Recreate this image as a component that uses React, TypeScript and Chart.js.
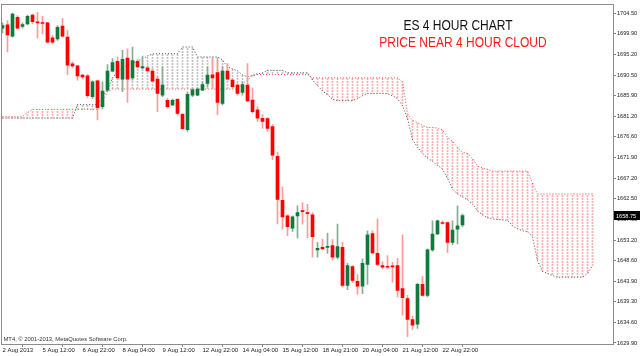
import React, { useEffect, useRef } from 'react';
import { Chart, registerables } from 'chart.js';

Chart.register(...registerables);

// ---- candle data (ES 4H) ----
const opens = [1701.13, 1701.87, 1699.33, 1703.60, 1701.51, 1702.09, 1704.12, 1702.48, 1702.32, 1702.32,
  1698.95, 1698.72, 1701.58, 1699.11, 1693.04, 1692.59, 1690.50, 1690.34, 1685.62, 1689.22,
  1683.38, 1687.13, 1691.40, 1693.65, 1689.60, 1694.39, 1689.89, 1693.65, 1692.14, 1692.14,
  1691.40, 1689.60, 1686.00, 1684.79, 1683.76, 1685.02, 1681.65, 1678.14, 1686.00, 1686.00,
  1687.13, 1688.61, 1690.57, 1691.08, 1684.12, 1691.40, 1689.38, 1688.25, 1686.59, 1688.25,
  1684.88, 1682.63, 1680.75, 1680.68, 1678.88, 1672.14, 1662.19, 1658.66, 1655.90, 1658.66,
  1659.78, 1659.40, 1658.88, 1650.95, 1651.54, 1651.54, 1651.92, 1649.29, 1651.54, 1642.93,
  1647.20, 1643.83, 1642.77, 1647.65, 1654.68, 1650.19, 1647.42, 1647.13, 1647.20, 1647.42,
  1642.19, 1639.94, 1635.22, 1634.17, 1643.15, 1640.68, 1650.95, 1654.55, 1657.16, 1657.16,
  1652.66, 1655.67, 1656.64];
const highs = [1702.32, 1702.86, 1704.57, 1703.98, 1702.32, 1704.12, 1704.34, 1704.72, 1703.82, 1702.48,
  1699.49, 1701.73, 1703.37, 1700.61, 1693.49, 1692.75, 1690.63, 1690.63, 1689.22, 1689.38,
  1688.99, 1692.88, 1694.23, 1694.61, 1696.12, 1696.48, 1696.86, 1694.10, 1694.84, 1692.59,
  1691.98, 1690.12, 1692.36, 1685.24, 1685.11, 1685.24, 1681.87, 1686.75, 1687.49, 1687.65,
  1688.99, 1692.36, 1694.23, 1694.23, 1692.36, 1693.11, 1689.74, 1688.61, 1688.99, 1693.11,
  1687.65, 1683.38, 1681.58, 1680.91, 1679.33, 1673.11, 1665.18, 1658.88, 1658.66, 1660.91,
  1661.65, 1661.29, 1659.40, 1652.66, 1653.42, 1654.77, 1653.27, 1656.79, 1652.66, 1647.94,
  1647.42, 1645.40, 1648.93, 1655.29, 1655.29, 1657.92, 1648.32, 1649.67, 1648.17, 1649.06,
  1654.39, 1640.68, 1635.97, 1643.45, 1644.95, 1651.18, 1657.54, 1657.69, 1657.54, 1657.31,
  1657.54, 1660.91, 1659.04];
const lows = [1700.07, 1695.74, 1699.11, 1700.97, 1701.13, 1701.87, 1702.09, 1698.88, 1699.85, 1697.82,
  1697.60, 1698.36, 1699.11, 1690.63, 1692.14, 1689.38, 1689.67, 1685.40, 1685.24, 1680.39,
  1682.86, 1686.90, 1691.24, 1689.74, 1686.75, 1684.34, 1689.38, 1692.14, 1691.98, 1691.40,
  1688.99, 1682.25, 1685.62, 1683.00, 1683.60, 1681.51, 1678.14, 1677.76, 1685.62, 1685.85,
  1686.97, 1687.87, 1687.49, 1681.58, 1683.76, 1689.38, 1687.65, 1686.00, 1686.00, 1684.50,
  1681.87, 1680.01, 1678.44, 1677.76, 1671.40, 1656.86, 1655.67, 1654.17, 1655.13, 1653.65,
  1656.79, 1653.65, 1649.29, 1649.29, 1650.95, 1650.19, 1648.70, 1648.93, 1642.55, 1641.96,
  1643.60, 1640.91, 1641.06, 1643.15, 1650.05, 1647.42, 1646.68, 1646.68, 1643.67, 1640.30,
  1636.19, 1631.31, 1632.98, 1633.20, 1640.46, 1640.30, 1650.64, 1654.39, 1656.79, 1650.41,
  1652.14, 1652.30, 1656.19];
const closes = [1701.73, 1699.62, 1704.34, 1701.13, 1701.96, 1703.82, 1702.63, 1702.32, 1702.18, 1697.98,
  1697.98, 1701.35, 1699.33, 1692.75, 1692.59, 1690.34, 1690.12, 1685.85, 1688.99, 1683.15,
  1686.90, 1691.40, 1693.33, 1689.89, 1694.10, 1689.60, 1693.78, 1692.36, 1692.43, 1691.47,
  1689.15, 1686.37, 1688.25, 1683.38, 1684.79, 1681.87, 1678.37, 1686.14, 1687.20, 1687.35,
  1688.39, 1690.50, 1689.89, 1684.34, 1691.40, 1689.60, 1687.87, 1686.37, 1688.39, 1684.66,
  1682.25, 1680.75, 1680.01, 1678.44, 1672.37, 1662.41, 1658.43, 1656.19, 1658.43, 1659.40,
  1659.62, 1659.18, 1653.94, 1651.31, 1651.18, 1651.76, 1649.29, 1651.69, 1642.93, 1647.42,
  1644.05, 1642.77, 1647.94, 1654.39, 1650.28, 1647.65, 1647.04, 1647.04, 1647.13, 1641.81,
  1640.17, 1635.22, 1633.95, 1643.15, 1640.68, 1650.95, 1654.55, 1657.54, 1656.93, 1652.66,
  1655.45, 1656.41, 1658.75];

// ---- Ichimoku cloud (shifted 26 bars ahead) ----
const spanA = [1680.79, 1680.79, 1680.79, 1680.79, 1680.79, 1680.79, 1680.79, 1680.79, 1680.79, 1680.79,
  1680.79, 1680.79, 1680.79, 1680.79, 1680.79, 1683.83, 1683.83, 1683.83, 1683.83, 1683.83,
  1685.62, 1687.20, 1689.89, 1691.24, 1692.14, 1692.81, 1693.26, 1693.71, 1694.16, 1694.84,
  1695.29, 1695.35, 1695.35, 1695.35, 1695.35, 1695.35, 1696.86, 1696.86, 1696.86, 1694.61,
  1694.61, 1694.61, 1694.61, 1694.61, 1693.94, 1692.36, 1691.92, 1691.47, 1690.57, 1690.12,
  1690.45, 1690.79, 1691.02, 1691.58, 1691.58, 1691.58, 1691.58, 1691.02, 1691.02, 1691.02,
  1691.02, 1691.02, 1689.44, 1688.10, 1686.97, 1686.07, 1685.06, 1684.72, 1684.72, 1684.72,
  1684.72, 1685.17, 1685.85, 1686.37, 1686.37, 1686.37, 1686.37, 1686.30, 1685.85, 1685.17,
  1683.60, 1680.68, 1675.96, 1674.16, 1672.81, 1671.69, 1671.02, 1670.12, 1669.22, 1667.20,
  1664.73, 1663.60, 1662.93, 1662.26, 1661.36, 1659.78, 1658.88, 1658.21, 1657.99, 1657.87,
  1657.76, 1657.65, 1656.41, 1655.74, 1655.29, 1655.06, 1653.94, 1648.55, 1646.08, 1645.63,
  1645.18, 1644.80, 1644.80, 1644.80, 1644.80, 1644.80, 1644.80, 1645.63, 1647.42];
const spanB = [1681.13, 1681.13, 1681.13, 1681.13, 1681.13, 1682.03, 1682.77, 1682.77, 1682.77, 1682.77,
  1682.77, 1682.77, 1682.77, 1682.77, 1682.77, 1682.77, 1682.77, 1682.77, 1682.77, 1682.77,
  1684.50, 1686.75, 1687.35, 1687.35, 1687.35, 1687.35, 1687.35, 1687.35, 1687.35, 1687.35,
  1687.35, 1687.35, 1687.35, 1687.35, 1687.35, 1687.35, 1687.35, 1687.35, 1687.35, 1687.35,
  1687.35, 1687.35, 1687.35, 1687.35, 1687.35, 1687.35, 1687.35, 1687.35, 1688.54, 1689.44,
  1690.34, 1690.63, 1690.63, 1690.63, 1690.63, 1690.63, 1690.63, 1690.63, 1690.63, 1690.63,
  1690.63, 1690.63, 1689.89, 1689.89, 1689.89, 1689.89, 1689.89, 1689.89, 1689.89, 1689.89,
  1689.89, 1689.89, 1689.89, 1689.89, 1689.89, 1689.89, 1689.89, 1689.89, 1689.89, 1689.89,
  1688.99, 1681.80, 1680.23, 1679.78, 1679.11, 1678.66, 1678.66, 1678.55, 1678.10, 1676.41,
  1675.51, 1674.16, 1673.04, 1672.81, 1671.69, 1669.89, 1669.51, 1669.22, 1668.77, 1668.77,
  1668.77, 1668.77, 1668.77, 1668.77, 1668.77, 1668.77, 1666.07, 1663.60, 1663.60, 1663.60,
  1663.60, 1663.60, 1663.60, 1663.60, 1663.60, 1663.60, 1663.60, 1663.60, 1663.60];

// ---- axes ----
const yTicks = [1704.5, 1699.9, 1695.2, 1690.5, 1685.9, 1681.2, 1676.6, 1671.9, 1667.2, 1662.5,
  1657.9, 1653.2, 1648.6, 1643.9, 1639.3, 1634.6, 1629.9];
const xTickBars = [0, 8, 16, 24, 32, 40, 48, 56, 64, 72, 80, 88];
const xTickLabels = ['2 Aug 2013', '5 Aug 12:00', '6 Aug 22:00', '8 Aug 04:00', '9 Aug 12:00',
  '12 Aug 22:00', '14 Aug 04:00', '15 Aug 12:00', '18 Aug 21:00', '20 Aug 04:00', '21 Aug 12:00',
  '22 Aug 22:00'];
const titleLine1 = 'ES 4 HOUR CHART';
const titleLine2 = 'PRICE NEAR 4 HOUR CLOUD';
const copyright = 'MT4, \u00A9 2001-2013, MetaQuotes Software Corp.';

const FONT = '"Liberation Sans", Arial, sans-serif';

function makePattern(color: string) {
  const c = document.createElement('canvas');
  c.width = 1;
  c.height = 3;
  const g = c.getContext('2d')!;
  g.fillStyle = color;
  g.fillRect(0, 0, 1, 2);
  return g.createPattern(c, 'repeat')!;
}

function drawText(ctx: CanvasRenderingContext2D, text: string, x: number, y: number, size: number,
  color: string, sx: number, align: CanvasTextAlign) {
  ctx.save();
  ctx.font = `${size}px ${FONT}`;
  ctx.fillStyle = color;
  ctx.textAlign = align;
  ctx.textBaseline = 'alphabetic';
  ctx.translate(x, y);
  ctx.scale(sx, 1);
  ctx.fillText(text, 0, 0);
  ctx.restore();
}

export default function App() {
  const ref = useRef<HTMLCanvasElement>(null);
  useEffect(() => {
    document.body.style.margin = '0';
    const canvas = ref.current!;
    const redHatch = makePattern('rgba(255,110,110,0.55)');
    const grayHatch = makePattern('rgba(120,120,120,0.45)');
    const idx = opens.map((_, i) => i);
    const cIdx = spanA.map((_, i) => i);
    const up = idx.map(i => closes[i] >= opens[i]);

    const overlay = {
      id: 'overlay',
      afterDraw(chart: any) {
        const ctx: CanvasRenderingContext2D = chart.ctx;
        const a = chart.chartArea;
        ctx.save();
        ctx.strokeStyle = '#8c8c8c';
        ctx.lineWidth = 1;
        ctx.strokeRect(Math.round(a.left) + 0.5, Math.round(a.top) + 0.5,
          Math.round(a.right - a.left), Math.round(a.bottom - a.top));
        // last price tag
        const last = closes[closes.length - 1];
        const py = chart.scales.y.getPixelForValue(last);
        ctx.fillStyle = '#000';
        ctx.fillRect(Math.round(a.right) + 1, Math.round(py) - 4, 27, 9);
        ctx.restore();
        drawText(ctx, last.toFixed(2), Math.round(a.right) + 3, py + 2.2, 5.6, '#fff', 1, 'left');
        drawText(ctx, titleLine1, 458, 30, 15, '#111', 0.8, 'center');
        drawText(ctx, titleLine2, 463, 47.3, 15, '#ff1a1a', 0.8, 'center');
        drawText(ctx, copyright, 3.5, 341.3, 6, '#333', 0.97, 'left');
      },
    };

    const chart = new Chart(canvas, {
      type: 'bar',
      data: {
        datasets: [
          {
            type: 'bar',
            data: cIdx.map(i => ({ x: i, y: [Math.min(spanA[i], spanB[i]), Math.max(spanA[i], spanB[i])] })),
            backgroundColor: cIdx.map(i => (spanA[i] >= spanB[i] ? grayHatch : redHatch)),
            barThickness: 1,
            grouped: false,
            order: 5,
          } as any,
          {
            type: 'line',
            data: cIdx.map(i => ({ x: i, y: spanA[i] })),
            borderColor: 'rgba(60,60,60,0.95)',
            borderWidth: 1,
            borderDash: [1, 2],
            pointRadius: 0,
            order: 4,
          } as any,
          {
            type: 'line',
            data: cIdx.map(i => ({ x: i, y: spanB[i] })),
            borderColor: 'rgba(255,50,50,0.9)',
            borderWidth: 1,
            borderDash: [1, 2],
            pointRadius: 0,
            order: 4,
          } as any,
          {
            type: 'bar',
            data: idx.map(i => ({ x: i, y: [lows[i], highs[i]] })),
            backgroundColor: idx.map(i => (up[i] ? '#86ad95' : '#ff9a9a')),
            barThickness: 1,
            grouped: false,
            order: 2,
          } as any,
          {
            type: 'bar',
            data: idx.map(i => ({ x: i, y: [opens[i], closes[i]] })),
            backgroundColor: idx.map(i => (up[i] ? '#0f7a3c' : '#ff0000')),
            barThickness: 3,
            minBarLength: 1,
            grouped: false,
            order: 1,
          } as any,
        ],
      },
      options: {
        responsive: false,
        animation: false,
        events: [],
        devicePixelRatio: 1,
        layout: { padding: { left: 1, top: 2, right: 0, bottom: 0 } },
        plugins: { legend: { display: false }, tooltip: { enabled: false } },
        scales: {
          x: {
            type: 'linear',
            min: -0.3,
            max: 122.1,
            offset: false,
            position: 'bottom',
            grid: { display: true, drawOnChartArea: false, drawTicks: true, tickLength: 3, color: '#808080' },
            border: { display: false },
            ticks: {
              autoSkip: false,
              maxRotation: 0,
              minRotation: 0,
              align: 'start',
              padding: 0,
              color: '#222',
              font: { size: 6, family: FONT },
              callback: (v: any) => {
                const k = xTickBars.indexOf(Number(v));
                return k >= 0 ? xTickLabels[k] : '';
              },
            },
            afterBuildTicks: (s: any) => {
              s.ticks = xTickBars.map(v => ({ value: v }));
            },
            afterFit: (s: any) => {
              s.height = 12;
            },
          },
          y: {
            type: 'linear',
            position: 'right',
            min: 1629.67,
            max: 1706.52,
            grid: { display: true, drawOnChartArea: false, drawTicks: true, tickLength: 3, color: '#808080' },
            border: { display: false },
            ticks: {
              autoSkip: false,
              padding: 1,
              color: '#222',
              font: { size: 5.6, family: FONT },
              callback: (v: any) => Number(v).toFixed(2),
            },
            afterBuildTicks: (s: any) => {
              s.ticks = yTicks.map(v => ({ value: v }));
            },
            afterFit: (s: any) => {
              s.width = 27;
            },
          },
        },
      } as any,
      plugins: [overlay],
    });
    return () => chart.destroy();
  }, []);

  return (
    <div style={{ position: 'absolute', left: 0, top: 0, width: 640, height: 356, background: '#fff' }}>
      <canvas ref={ref} width={640} height={356} style={{ display: 'block', width: 640, height: 356 }} />
    </div>
  );
}
